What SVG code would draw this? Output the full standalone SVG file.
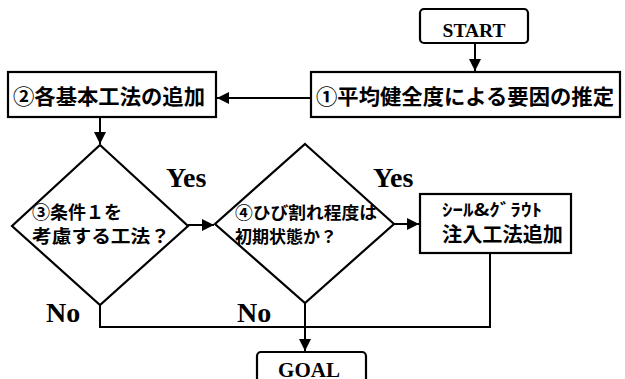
<svg xmlns="http://www.w3.org/2000/svg" width="625" height="379" viewBox="0 0 625 379">
<defs>
<marker id="ah" viewBox="0 0 10 10" refX="10" refY="5" markerWidth="6" markerHeight="6" markerUnits="strokeWidth" orient="auto"><path d="M0,0 L10,5 L0,10 z" fill="#000"/></marker>
<style>
.box{fill:#fff;stroke:#000;stroke-width:2.2}
.ln{fill:none;stroke:#000;stroke-width:2}
.jp{font-family:"Noto Sans CJK JP","Noto Sans",sans-serif;font-weight:bold;fill:#000}
.sf{font-family:"Liberation Serif",serif;fill:#000;font-weight:bold}
</style>
</defs>
<rect width="625" height="379" fill="#fff"/>
<g id="start"><rect class="box" x="420" y="9" width="108" height="34" rx="4"/><text class="sf" x="474" y="37" font-size="19.5" text-anchor="middle">START</text></g>
<g id="n1"><rect class="box" x="311" y="72" width="309" height="45"/><text class="jp" x="316" y="104" font-size="21" textLength="298" lengthAdjust="spacingAndGlyphs">①平均健全度による要因の推定</text></g>
<g id="n2"><rect class="box" x="8" y="72" width="208" height="45"/><text class="jp" x="13" y="104" font-size="21" textLength="192" lengthAdjust="spacingAndGlyphs">②各基本工法の追加</text></g>
<g id="d1"><path class="box" d="M100,145 L188,226 L100,305 L12,226 z"/><text class="jp" x="32" y="219" font-size="18">③条件１を</text><text class="jp" x="32" y="243" font-size="18" textLength="138" lengthAdjust="spacingAndGlyphs">考慮する工法？</text></g>
<g id="d2"><path class="box" d="M305,144 L394,224 L305,303 L215,224 z"/><text class="jp" x="235" y="219" font-size="17" textLength="142" lengthAdjust="spacingAndGlyphs">④ひび割れ程度は</text><text class="jp" x="235" y="243" font-size="17">初期状態か？</text></g>
<g id="n3"><rect class="box" x="420" y="194" width="151" height="59"/><text class="jp" x="442" y="216" font-size="17" textLength="100" lengthAdjust="spacingAndGlyphs">ｼｰﾙ&amp;ｸﾞﾗｳﾄ</text><text class="jp" x="442" y="242" font-size="20" textLength="121" lengthAdjust="spacingAndGlyphs">注入工法追加</text></g>
<g id="goal"><rect class="box" x="257" y="352" width="109" height="40" rx="4"/><text class="sf" x="309" y="377" font-size="21" text-anchor="middle">GOAL</text></g>
<g id="labels">
<text class="sf" x="166" y="187" font-size="28">Yes</text>
<text class="sf" x="373" y="187" font-size="28">Yes</text>
<text class="sf" x="46" y="322" font-size="28">No</text>
<text class="sf" x="237" y="322" font-size="28">No</text>
</g>
<g id="connectors">
<path class="ln" d="M475,43 V71" marker-end="url(#ah)"/>
<path class="ln" d="M311,98 H217" marker-end="url(#ah)"/>
<path class="ln" d="M100,117 V144" marker-end="url(#ah)"/>
<path class="ln" d="M188,225 H214" marker-end="url(#ah)"/>
<path class="ln" d="M394,224 H419" marker-end="url(#ah)"/>
<path class="ln" d="M100,305 V327 H490 V253"/>
<path class="ln" d="M305,303 V351" marker-end="url(#ah)"/>
</g>
</svg>
